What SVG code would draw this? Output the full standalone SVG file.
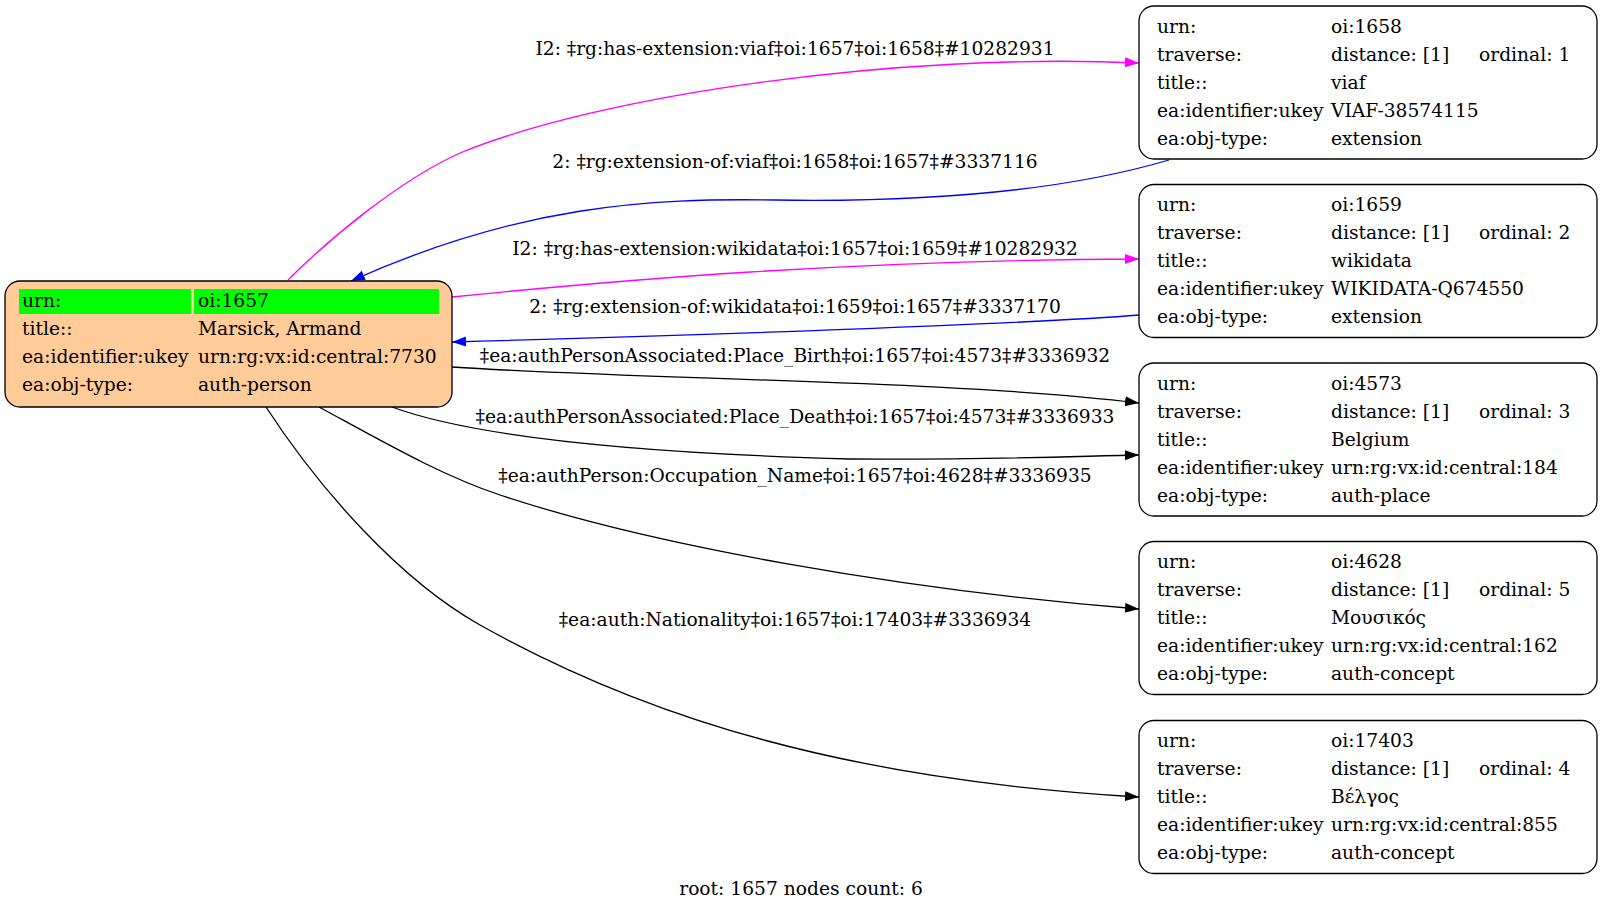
<svg xmlns="http://www.w3.org/2000/svg" width="1604" height="911" viewBox="0 0 1604 911">
<style>
text{font-family:"DejaVu Serif","Liberation Serif",serif;font-size:18.67px;fill:#000}
.lbl{text-anchor:middle}
.box{fill:#fff;stroke:#000;stroke-width:1.3}
.root{fill:#ffcc99;stroke:#000;stroke-width:1.3}
.hl{fill:#00ff00}
.e{fill:none;stroke-width:1.3}
.blk{stroke:#000}
.mag{stroke:#ff00ff}
.blu{stroke:#0000ff}
</style>
<defs>
<marker id="ak" markerUnits="userSpaceOnUse" markerWidth="16" markerHeight="12" refX="14" refY="5" orient="auto"><path d="M0,0 L14,5 L0,10 z" fill="#000"/></marker>
<marker id="am" markerUnits="userSpaceOnUse" markerWidth="16" markerHeight="12" refX="14" refY="5" orient="auto"><path d="M0,0 L14,5 L0,10 z" fill="#ff00ff"/></marker>
<marker id="ab" markerUnits="userSpaceOnUse" markerWidth="16" markerHeight="12" refX="14" refY="5" orient="auto"><path d="M0,0 L14,5 L0,10 z" fill="#0000ff"/></marker>
</defs>
<rect width="1604" height="911" fill="#fff"/>
<g id="connectors">
<path class="e mag" marker-end="url(#am)" d="M288,280 C330,238 400,180 460,153 C600,95 900,52 1139,63"/>
<path class="e blu" marker-end="url(#ab)" d="M1169,160 C1050,195 900,202 775,200 C650,198 520,205 351,281"/>
<path class="e mag" marker-end="url(#am)" d="M452,297 C620,280 850,260 1139,259"/>
<path class="e blu" marker-end="url(#ab)" d="M1139,315 C1080,320 880,330 452,342"/>
<path class="e blk" marker-end="url(#ak)" d="M452,367 C650,380 950,380 1139,403"/>
<path class="e blk" marker-end="url(#ak)" d="M392,407 C460,432 600,452 850,459 C1000,460 1080,456 1139,455"/>
<path class="e blk" marker-end="url(#ak)" d="M319,407 C380,440 440,475 500,495 C650,545 900,590 1139,609"/>
<path class="e blk" marker-end="url(#ak)" d="M266,407 C320,490 400,580 480,625 C650,720 850,780 1139,797"/>
<text class="lbl" x="795" y="55">I2: ‡rg:has-extension:viaf‡oi:1657‡oi:1658‡#10282931</text>
<text class="lbl" x="795" y="168">2: ‡rg:extension-of:viaf‡oi:1658‡oi:1657‡#3337116</text>
<text class="lbl" x="795" y="255">I2: ‡rg:has-extension:wikidata‡oi:1657‡oi:1659‡#10282932</text>
<text class="lbl" x="795" y="313">2: ‡rg:extension-of:wikidata‡oi:1659‡oi:1657‡#3337170</text>
<text class="lbl" x="795" y="362">‡ea:authPersonAssociated:Place_Birth‡oi:1657‡oi:4573‡#3336932</text>
<text class="lbl" x="795" y="423">‡ea:authPersonAssociated:Place_Death‡oi:1657‡oi:4573‡#3336933</text>
<text class="lbl" x="795" y="482">‡ea:authPerson:Occupation_Name‡oi:1657‡oi:4628‡#3336935</text>
<text class="lbl" x="795" y="626">‡ea:auth:Nationality‡oi:1657‡oi:17403‡#3336934</text>
</g>
<g id="n1657">
<rect class="root" x="5" y="281" width="447" height="126" rx="15"/>
<rect class="hl" x="19" y="289" width="172" height="25"/>
<rect class="hl" x="194" y="289" width="245" height="25"/>
<text x="22" y="306.5">urn:</text><text x="198" y="306.5">oi:1657</text>
<text x="22" y="334.5">title::</text><text x="198" y="334.5">Marsick, Armand</text>
<text x="22" y="362.5">ea:identifier:ukey</text><text x="198" y="362.5">urn:rg:vx:id:central:7730</text>
<text x="22" y="390.5">ea:obj-type:</text><text x="198" y="390.5">auth-person</text>
</g>
<g id="n1658">
<rect class="box" x="1139" y="6" width="458" height="153" rx="15"/>
<text x="1157" y="32.5">urn:</text><text x="1331" y="32.5">oi:1658</text>
<text x="1157" y="60.5">traverse:</text><text x="1331" y="60.5">distance: [1]</text><text x="1479" y="60.5">ordinal: 1</text>
<text x="1157" y="88.5">title::</text><text x="1331" y="88.5">viaf</text>
<text x="1157" y="116.5">ea:identifier:ukey</text><text x="1331" y="116.5">VIAF-38574115</text>
<text x="1157" y="144.5">ea:obj-type:</text><text x="1331" y="144.5">extension</text>
</g>
<g id="n1659">
<rect class="box" x="1139" y="184.5" width="458" height="153" rx="15"/>
<text x="1157" y="211">urn:</text><text x="1331" y="211">oi:1659</text>
<text x="1157" y="239">traverse:</text><text x="1331" y="239">distance: [1]</text><text x="1479" y="239">ordinal: 2</text>
<text x="1157" y="267">title::</text><text x="1331" y="267">wikidata</text>
<text x="1157" y="295">ea:identifier:ukey</text><text x="1331" y="295">WIKIDATA-Q674550</text>
<text x="1157" y="323">ea:obj-type:</text><text x="1331" y="323">extension</text>
</g>
<g id="n4573">
<rect class="box" x="1139" y="363" width="458" height="153" rx="15"/>
<text x="1157" y="389.5">urn:</text><text x="1331" y="389.5">oi:4573</text>
<text x="1157" y="417.5">traverse:</text><text x="1331" y="417.5">distance: [1]</text><text x="1479" y="417.5">ordinal: 3</text>
<text x="1157" y="445.5">title::</text><text x="1331" y="445.5">Belgium</text>
<text x="1157" y="473.5">ea:identifier:ukey</text><text x="1331" y="473.5">urn:rg:vx:id:central:184</text>
<text x="1157" y="501.5">ea:obj-type:</text><text x="1331" y="501.5">auth-place</text>
</g>
<g id="n4628">
<rect class="box" x="1139" y="541.5" width="458" height="153" rx="15"/>
<text x="1157" y="568">urn:</text><text x="1331" y="568">oi:4628</text>
<text x="1157" y="596">traverse:</text><text x="1331" y="596">distance: [1]</text><text x="1479" y="596">ordinal: 5</text>
<text x="1157" y="624">title::</text><text x="1331" y="624">Μουσικός</text>
<text x="1157" y="652">ea:identifier:ukey</text><text x="1331" y="652">urn:rg:vx:id:central:162</text>
<text x="1157" y="680">ea:obj-type:</text><text x="1331" y="680">auth-concept</text>
</g>
<g id="n17403">
<rect class="box" x="1139" y="720.5" width="458" height="153" rx="15"/>
<text x="1157" y="747">urn:</text><text x="1331" y="747">oi:17403</text>
<text x="1157" y="775">traverse:</text><text x="1331" y="775">distance: [1]</text><text x="1479" y="775">ordinal: 4</text>
<text x="1157" y="803">title::</text><text x="1331" y="803">Βέλγος</text>
<text x="1157" y="831">ea:identifier:ukey</text><text x="1331" y="831">urn:rg:vx:id:central:855</text>
<text x="1157" y="859">ea:obj-type:</text><text x="1331" y="859">auth-concept</text>
</g>
<text class="lbl" x="801" y="895">root: 1657 nodes count: 6</text>
</svg>
